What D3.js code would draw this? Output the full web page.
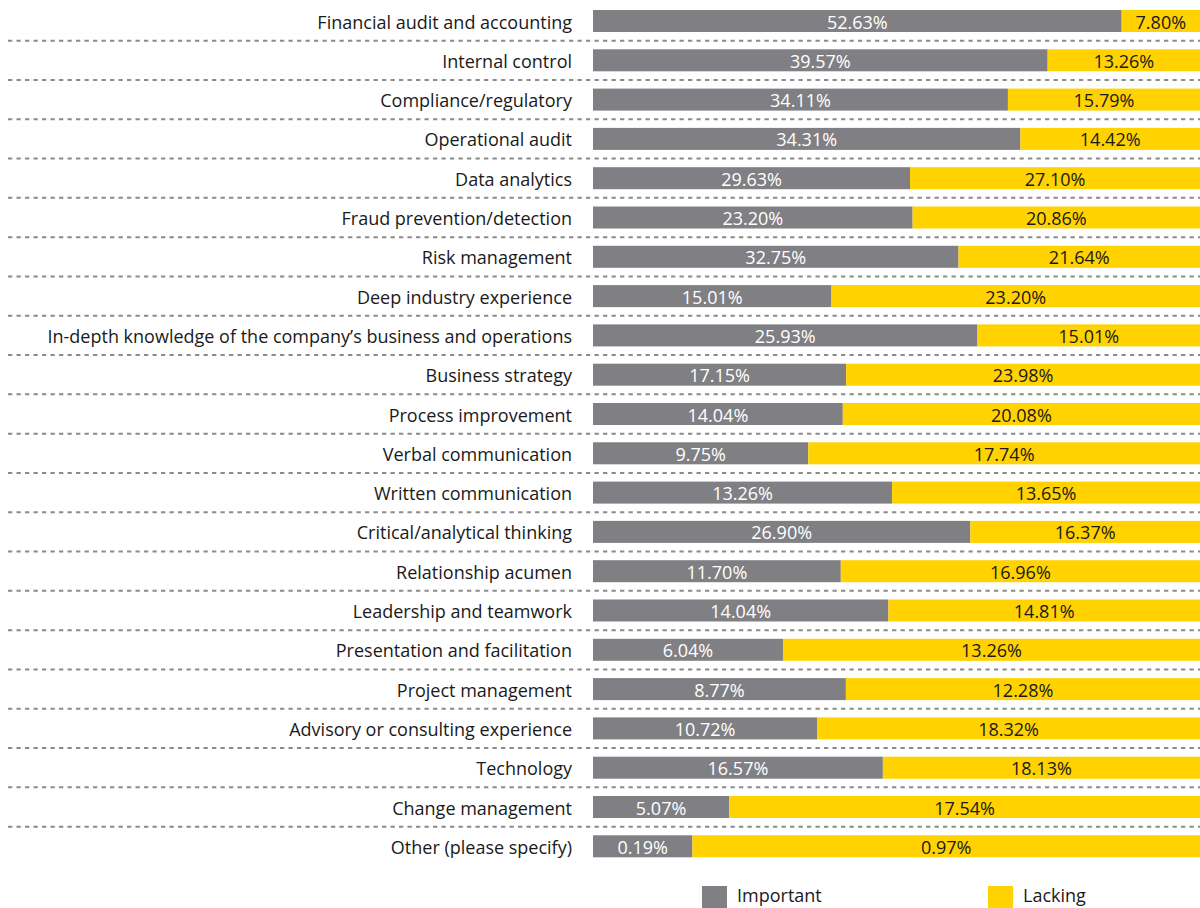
<!DOCTYPE html>
<html lang="en">
<head>
    <meta charset="UTF-8">
    <title>Skills: important vs lacking</title>
    <script src="https://d3js.org/d3.v7.min.js"></script>
<style>
    body { margin: 0; background: #fff; }
    svg { display: block; font-family: "Open Sans", sans-serif; }
</style>
</head>
<body>
</body>
<script>

// data
const categories = [
    'Financial audit and accounting',
    'Internal control',
    'Compliance/regulatory',
    'Operational audit',
    'Data analytics',
    'Fraud prevention/detection',
    'Risk management',
    'Deep industry experience',
    'In-depth knowledge of the company\u2019s business and operations',
    'Business strategy',
    'Process improvement',
    'Verbal communication',
    'Written communication',
    'Critical/analytical thinking',
    'Relationship acumen',
    'Leadership and teamwork',
    'Presentation and facilitation',
    'Project management',
    'Advisory or consulting experience',
    'Technology',
    'Change management',
    'Other (please specify)'
];
const important = [52.63, 39.57, 34.11, 34.31, 29.63, 23.20, 32.75, 15.01, 25.93, 17.15, 14.04,
    9.75, 13.26, 26.90, 11.70, 14.04, 6.04, 8.77, 10.72, 16.57, 5.07, 0.19];
const lacking = [7.80, 13.26, 15.79, 14.42, 27.10, 20.86, 21.64, 23.20, 15.01, 23.98, 20.08,
    17.74, 13.65, 16.37, 16.96, 14.81, 13.26, 12.28, 18.32, 18.13, 17.54, 0.97];
const seriesNames = ['Important', 'Lacking'];

const colors = { Important: '#807f83', Lacking: '#ffd200' };
const textColors = { Important: '#ffffff', Lacking: '#1a1a1a' };

const width = 1200, height = 908;
const rows = categories.map((c, i) => {
    const total = important[i] + lacking[i];   // each bar is stretched to the full width
    return {
        cat: c,
        segs: [
            { key: 'Important', value: important[i], x0: 0, x1: important[i] / total },
            { key: 'Lacking', value: lacking[i], x0: important[i] / total, x1: 1 }
        ]
    };
});

const svg = d3.select('body').append('svg')
    .attr('width', width)
    .attr('height', height);

const x = d3.scaleLinear().domain([0, 1]).range([593, 1200]);
const step = 39.3;
const y = d3.scaleBand()
    .domain(categories)
    .range([1.35, 1.35 + step * categories.length])
    .paddingInner(0.44)
    .paddingOuter(0.22);

// dashed separators
svg.append('g')
    .selectAll('line')
    .data(categories.slice(0, -1))
    .join('line')
    .attr('x1', 8)
    .attr('x2', width)
    .attr('y1', d => y(d) + y.bandwidth() + (step - y.bandwidth()) / 2)
    .attr('y2', d => y(d) + y.bandwidth() + (step - y.bandwidth()) / 2)
    .attr('stroke', '#8c8c8c')
    .attr('stroke-width', 2)
    .attr('stroke-dasharray', '4.3,4.2');

// category labels
svg.append('g')
    .selectAll('text')
    .data(categories)
    .join('text')
    .attr('x', 572)
    .attr('y', d => y(d) + y.bandwidth() / 2)
    .attr('dy', '0.42em')
    .attr('text-anchor', 'end')
    .attr('font-size', 18)
    .attr('fill', '#1a1a1a')
    .text(d => d);

// bars
const rowG = svg.append('g')
    .selectAll('g')
    .data(rows)
    .join('g')
    .attr('transform', d => `translate(0,${y(d.cat)})`);

rowG.selectAll('rect')
    .data(d => d.segs)
    .join('rect')
    .attr('x', d => x(d.x0))
    .attr('width', d => x(d.x1) - x(d.x0))
    .attr('height', y.bandwidth())
    .attr('fill', d => colors[d.key]);

rowG.selectAll('text')
    .data(d => d.segs)
    .join('text')
    .attr('x', d => (x(d.x0) + x(d.x1)) / 2)
    .attr('y', y.bandwidth() / 2)
    .attr('dy', '0.42em')
    .attr('text-anchor', 'middle')
    .attr('font-size', 18)
    .attr('fill', d => textColors[d.key])
    .text(d => d.value.toFixed(2) + '%');

// legend (sits against the bottom edge, like the original)
const legendX = [702, 988];
const legend = svg.append('g')
    .selectAll('g')
    .data(seriesNames)
    .join('g')
    .attr('transform', (d, i) => `translate(${legendX[i]},886)`);

legend.append('rect')
    .attr('width', 25)
    .attr('height', 22)
    .attr('fill', d => colors[d]);

legend.append('text')
    .attr('x', 35)
    .attr('y', 16)
    .attr('font-size', 18)
    .attr('fill', '#1a1a1a')
    .text(d => d);

</script>
</html>
